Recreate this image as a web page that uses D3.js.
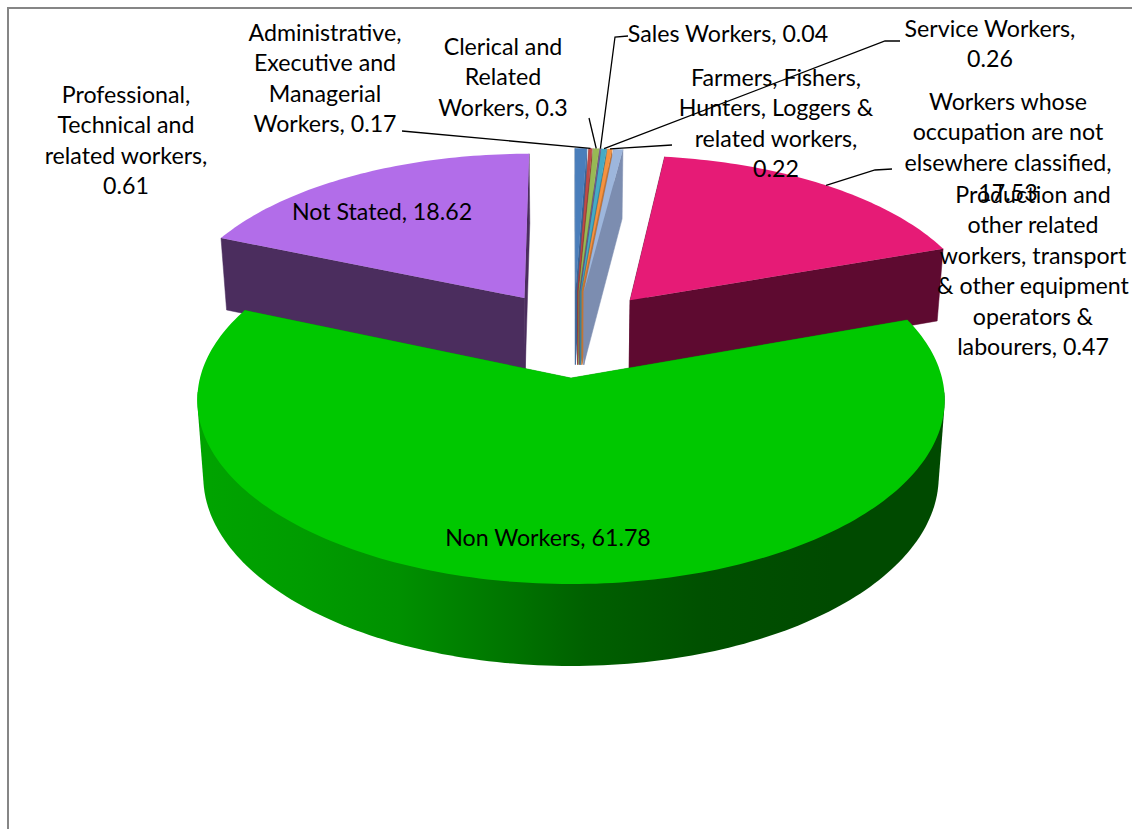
<!doctype html>
<html>
<head>
<style>
	body { margin: 0; background: #fff; }
	text { font-family: Lato, "Open Sans", sans-serif; font-size: 23.2px; fill: #000; text-anchor: middle; dominant-baseline: central; }
</style>
<script src="https://d3js.org/d3.v7.min.js"></script>
</head>
<body>
<svg id="chart" width="1132" height="829"></svg>
<script>

var categories = ["Professional, Technical and related workers", "Administrative, Executive and Managerial Workers",
	"Clerical and Related Workers", "Sales Workers", "Service Workers",
	"Farmers, Fishers, Hunters, Loggers & related workers",
	"Production and other related workers, transport & other equipment operators & labourers",
	"Workers whose occupation are not elsewhere classified", "Non Workers", "Not Stated"];
var values = [0.61, 0.17, 0.3, 0.04, 0.26, 0.22, 0.47, 17.53, 61.78, 18.62];
var topColors = ["#4a7ebb", "#be4b48", "#98b954", "#7d60a0", "#46aac5", "#f59240", "#9db6dc", "#e61b76", "#00c800", "#b26de9"];
var sideColors = ["#3a6496", "#973b39", "#789343", "#634c7f", "#37889d", "#c37433", "#7c8db0", "#5e0a30", "#00a000", "#4b2d5e"];

var svg = d3.select("#chart");

// frame, only top and left are drawn in the original
svg.append("path").attr("d", "M8,829V8H1132").attr("fill", "none").attr("stroke", "#868686").attr("stroke-width", 2);

var pieLayout = d3.pie().sort(null).value(function(d) { return d; });
var arcs = pieLayout(values);

// perspective of the disc, found from the rim of the big slice
var cx = 571, cy = 378, radius = 371, ry = 181.4, persp = 0.1196, explode = 0.254;
var bigMid = (arcs[8].startAngle + arcs[8].endAngle) / 2;
var centerU = -explode * Math.sin(bigMid), centerV = -explode * Math.cos(bigMid);

function project(u, v) {
	var s = 1 / (1 + persp * v);
	return [cx + radius * u * s, cy - ry * v * s];
}
function down(p) {
	return [cx + 0.984 * (p[0] - cx), 1.029 * p[1] + 65];
}
function offsetOf(d) {
	var mid = (d.startAngle + d.endAngle) / 2;
	return [centerU + explode * Math.sin(mid), centerV + explode * Math.cos(mid)];
}
// back slices come out a hair smaller than the big one
function rimPoint(d, a) {
	var o = offsetOf(d), r = d.index === 8 ? 1 : 0.985;
	return project(o[0] + r * Math.sin(a), o[1] + r * Math.cos(a));
}
function apexPoint(d) {
	var o = offsetOf(d);
	return project(o[0], o[1]);
}
function rimPoints(d) {
	var n = Math.max(2, Math.ceil((d.endAngle - d.startAngle) / 0.02));
	return d3.range(n + 1).map(function(i) {
		return rimPoint(d, d.startAngle + (d.endAngle - d.startAngle) * i / n);
	});
}
var line = d3.line();

// the big slice has a shaded wall
var wallGrad = svg.append("defs").append("linearGradient").attr("id", "wallGrad")
	.attr("gradientUnits", "userSpaceOnUse").attr("x1", 197).attr("x2", 945).attr("y1", 0).attr("y2", 0);
[[0, "#00a400"], [0.14, "#009c00"], [0.27, "#009000"], [0.42, "#007400"], [0.52, "#006000"], [0.68, "#005000"], [0.85, "#004a00"], [1, "#004a00"]].forEach(function(s) {
	wallGrad.append("stop").attr("offset", s[0]).attr("stop-color", s[1]);
});

function drawSlice(i) {
	var d = arcs[i];
	var g = svg.append("g");
	var apex = apexPoint(d);
	var first = rimPoint(d, d.startAngle), last = rimPoint(d, d.endAngle);
	var faces = [[apex, first, down(first), down(apex)], [apex, last, down(last), down(apex)]];
	faces.forEach(function(f) {
		g.append("path").attr("d", line(f) + "Z").attr("fill", sideColors[i]).attr("stroke", sideColors[i]).attr("stroke-width", 0.5);
	});
	var rim = rimPoints(d);
	// only the part of the rim facing us can show a wall
	var front = rim.filter(function(p) { return p[1] >= 390; });
	if (front.length > 2) {
		var hull = d3.polygonHull(front.concat(front.map(down)));
		g.append("path").attr("d", line(hull) + "Z").attr("fill", "url(#wallGrad)");
	}
	g.append("path").attr("d", line([apex].concat(rim)) + "Z").attr("fill", topColors[i]);
}

[0, 1, 2, 3, 4, 5, 6, 7, 9, 8].forEach(drawSlice);

// leader lines run from the top of the slice to a spot next to its label
var leaders = [
	[1, [[402, 131]]],
	[2, [[589, 118]]],
	[3, [[615, 37], [628, 36]]],
	[4, [[885, 41], [900, 41]]],
	[5, [[672, 145]]],
	[7, [[875, 170], [892, 169]]]
];
leaders.forEach(function(l) {
	var d = arcs[l[0]];
	var start = rimPoint(d, (d.startAngle + d.endAngle) / 2);
	svg.append("path").attr("d", line([start].concat(l[1]))).attr("fill", "none").attr("stroke", "#000").attr("stroke-width", 1.3);
});

var labels = [
	[126, 94, ["Professional,", "Technical and", "related workers,", "0.61"]],
	[325, 32, ["Administrative,", "Executive and", "Managerial", "Workers, 0.17"]],
	[503, 46, ["Clerical and", "Related", "Workers, 0.3"]],
	[728, 33, ["Sales Workers, 0.04"]],
	[990, 28, ["Service Workers,", "0.26"]],
	[776, 77, ["Farmers, Fishers,", "Hunters, Loggers &", "related workers,", "0.22"]],
	[1008, 101, ["Workers whose", "occupation are not", "elsewhere classified,", "17.53"]],
	[1033, 194, ["Production and", "other related", "workers, transport", "& other equipment", "operators &", "labourers, 0.47"]],
	[382, 211, ["Not Stated, 18.62"]],
	[548, 537, ["Non Workers, 61.78"]]
];
labels.forEach(function(l) {
	l[2].forEach(function(t, i) {
		svg.append("text").attr("x", l[0]).attr("y", l[1] + i * 30.4).text(t);
	});
});

</script>
</body>
</html>
